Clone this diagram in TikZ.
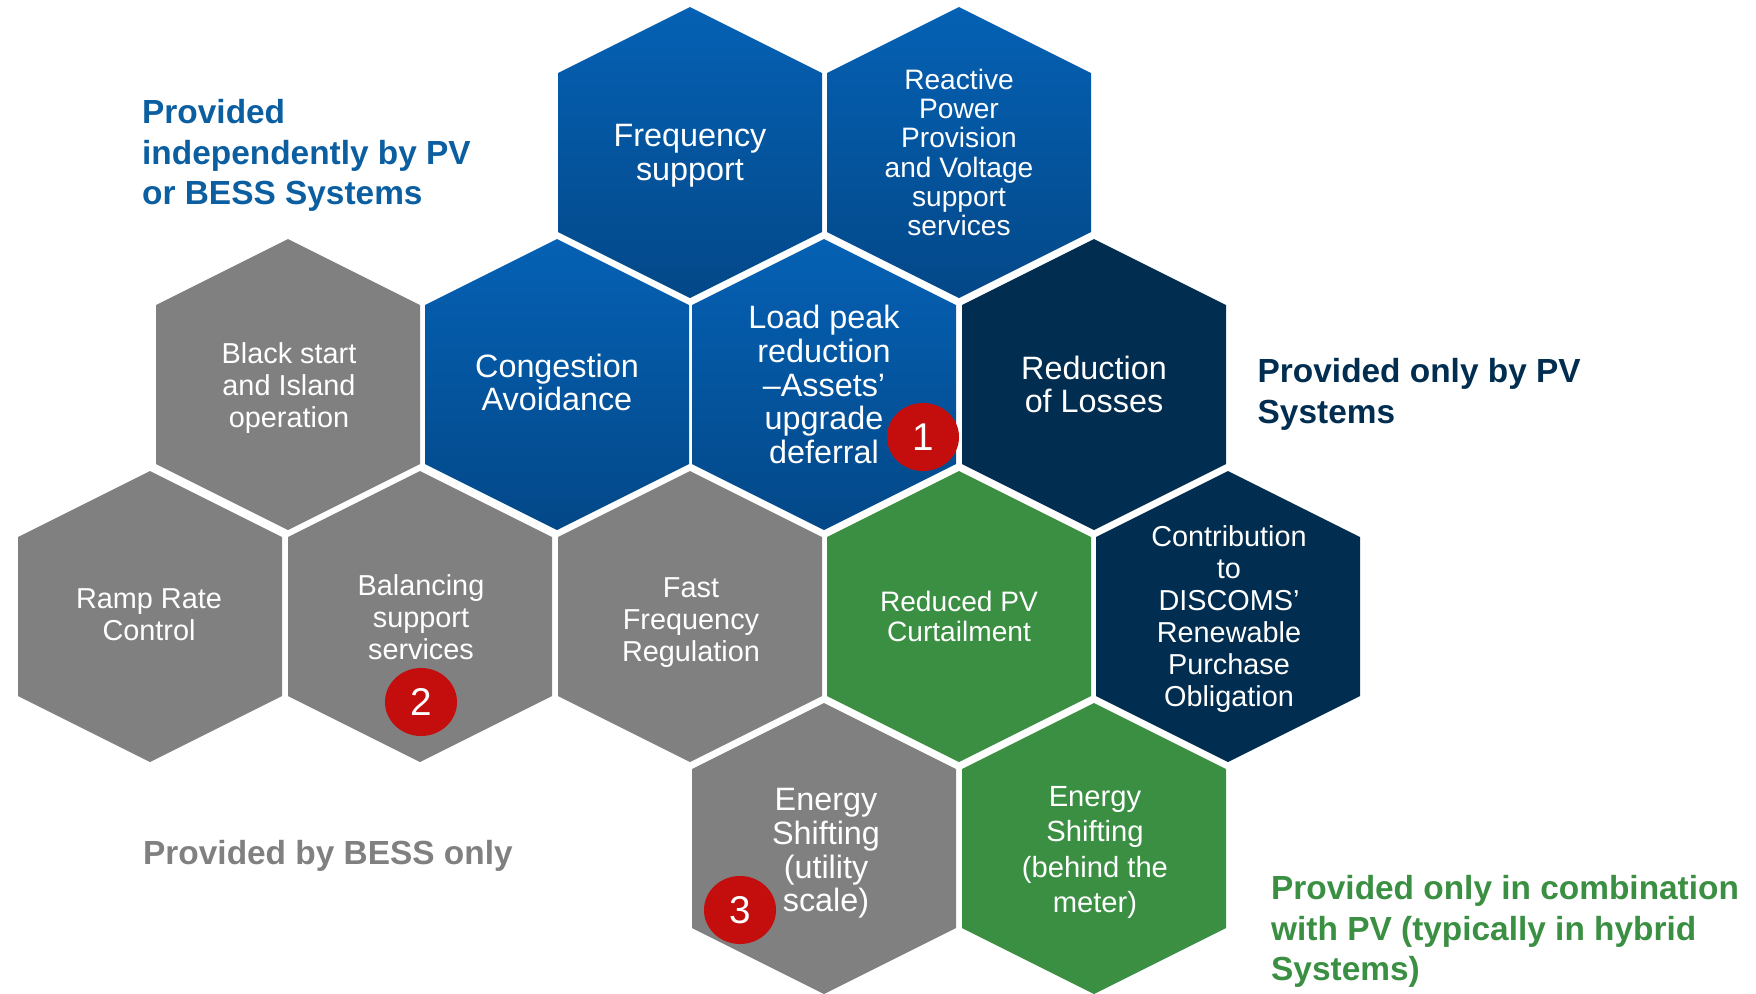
\documentclass[tikz,border=0pt]{standalone}
\usepackage{fontspec}
\setmainfont{Liberation Sans}
\usetikzlibrary{shapes.geometric}

\definecolor{cellblue}{RGB}{5,97,180}
\definecolor{cellbluedark}{RGB}{3,72,136}
\definecolor{cellnavy}{RGB}{1,46,80}
\definecolor{cellgreen}{RGB}{58,143,66}
\definecolor{cellgray}{RGB}{128,128,128}
\definecolor{badgered}{RGB}{196,14,14}
\definecolor{labelblue}{RGB}{11,94,160}

\tikzset{
  hexagon/.style={insert path={++(0,-145.5) -- ++(132,66) -- ++(0,159)
      -- ++(-132,66) -- ++(-132,-66) -- ++(0,-159) -- cycle}},
  bluecell/.style={top color=cellblue, bottom color=cellbluedark},
  celltext/.style={text=white, align=center, inner sep=0pt},
  bigtext/.style={celltext, font=\fontsize{9.2}{9.6}\selectfont},
  smalltext/.style={celltext, font=\fontsize{8.2}{9.1}\selectfont},
  tinytext/.style={celltext, font=\fontsize{8}{8.3}\selectfont},
  badge/.style={ellipse, fill=badgered, text=white, inner sep=0pt,
      minimum width=7.2mm, minimum height=6.8mm, font=\fontsize{11}{11}\selectfont},
  grouplabel/.style={anchor=north west, align=left, inner sep=0pt,
      font=\bfseries\fontsize{9.5}{11.5}\selectfont}
}

\begin{document}
\begin{tikzpicture}[x=0.01cm, y=-0.01cm]
  \useasboundingbox (0,0) rectangle (1756,993);

  % Honeycomb cells
  \foreach \cx/\cy in {690/152.5, 959/152.5, 557/384.5, 824/384.5}
    \path[bluecell] (\cx,\cy) [hexagon];
  \foreach \cx/\cy in {288/384.5, 150/616.5, 420/616.5, 690/616.5, 824/848.5}
    \fill[cellgray] (\cx,\cy) [hexagon];
  \foreach \cx/\cy in {1094/384.5, 1228/616.5}
    \fill[cellnavy] (\cx,\cy) [hexagon];
  \foreach \cx/\cy in {959/616.5, 1094/848.5}
    \fill[cellgreen] (\cx,\cy) [hexagon];

  % Cell texts
  \node[bigtext] (freq) at (690,156) {Frequency\\support};
  \node[tinytext] (reactive) at (959,152.5)
    {Reactive\\Power\\Provision\\and Voltage\\support\\services};
  \node[smalltext] (blackstart) at (289,388) {Black start\\and Island\\operation};
  \node[bigtext] (congestion) at (557,382.5) {Congestion\\Avoidance};
  \node[bigtext] (peak) at (824,384.5)
    {Load peak\\reduction\\–Assets’\\upgrade\\deferral};
  \node[bigtext] (losses) at (1094,384.5) {Reduction\\of Losses};
  \node[smalltext] (ramp) at (149,614.5) {Ramp Rate\\Control};
  \node[smalltext] (balancing) at (421,617) {Balancing\\support\\services};
  \node[smalltext] (fastfreq) at (691,623) {Fast\\Frequency\\Regulation};
  \node[tinytext] (curtail) at (959,616.5) {Reduced PV\\Curtailment};
  \node[smalltext] (rpo) at (1229,619.5)
    {Contribution\\to\\DISCOMS’\\Renewable\\Purchase\\Obligation};
  \node[bigtext] (shiftutil) at (826,853.5) {Energy\\Shifting\\(utility\\scale)};
  \node[celltext, font=\fontsize{8.3}{10}\selectfont] (shiftmeter) at (1095,852.5)
    {Energy\\Shifting\\(behind the\\meter)};

  % Numbered badges
  \node[badge] (one) at (923,437) {1};
  \node[badge] (two) at (421,702) {2};
  \node[badge] (three) at (740,910) {3};

  % Group labels
  \node[grouplabel, text=labelblue] (indep) at (141.5,99)
    {Provided\\independently by PV\\or BESS Systems};
  \node[grouplabel, text=cellnavy] (pvonly) at (1257,358)
    {Provided only by PV\\Systems};
  \node[grouplabel, text=cellgray] (bessonly) at (142.5,839.5)
    {Provided by BESS only};
  \node[grouplabel, text=cellgreen] (hybrid) at (1270.5,875)
    {Provided only in combination\\with PV (typically in hybrid\\Systems)};
\end{tikzpicture}
\end{document}
